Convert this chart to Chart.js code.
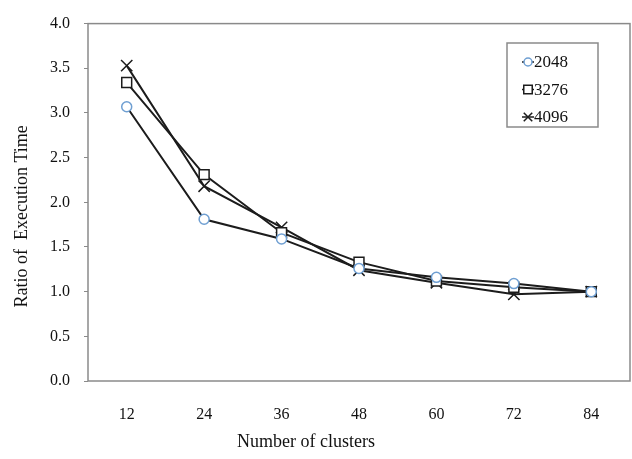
<!DOCTYPE html>
<html>
<head>
<meta charset="utf-8">
<script src="https://cdn.jsdelivr.net/npm/chart.js@4"></script>
<style>
  html, body { margin: 0; padding: 0; background: #fff; }
  #wrap { width: 632px; height: 459px; position: relative; }
</style>
</head>
<body>
<div id="wrap"><canvas id="chart" width="632" height="459"></canvas></div>
<script>
// Ratio of execution time vs number of clusters

const clusters = ['12', '24', '36', '48', '60', '72', '84'];
const ratio2048 = [3.07, 1.81, 1.59, 1.26, 1.16, 1.09, 1.00];
const ratio3276 = [3.34, 2.31, 1.66, 1.33, 1.12, 1.05, 1.00];
const ratio4096 = [3.53, 2.18, 1.72, 1.24, 1.10, 0.97, 1.00];
const seriesNames = ['2048', '3276', '4096'];
const yTicks = [0, 0.5, 1.0, 1.5, 2.0, 2.5, 3.0, 3.5, 4.0];

const serif = '"Liberation Serif", "Times New Roman", serif';
const lineColor = '#1c1c1c';
const frameColor = '#8a8a8a';

function makeSet(label, data, style, stroke, radius) {
    return {
        label: label,
        data: data,
        borderColor: lineColor,
        borderWidth: 2,
        fill: false,
        tension: 0,
        pointStyle: style,
        pointRadius: radius,
        pointBorderColor: stroke,
        pointBackgroundColor: '#fff',
        pointBorderWidth: 1.5
    };
}

// frame, axis titles and the boxed legend
const extras = {
    id: 'extras',
    afterDraw(chart) {
        const ctx = chart.ctx;
        const a = chart.chartArea;
        ctx.save();
        ctx.strokeStyle = frameColor;
        ctx.lineWidth = 1.5;
        ctx.strokeRect(a.left, a.top, a.right - a.left, a.bottom - a.top);

        ctx.fillStyle = '#111';
        ctx.font = '18px ' + serif;
        ctx.textAlign = 'center';
        ctx.textBaseline = 'middle';
        ctx.fillText('Number of clusters', 306, 442);

        ctx.save();
        ctx.translate(22, (a.top + a.bottom) / 2 + 14);
        ctx.rotate(-Math.PI / 2);
        ctx.font = '18px ' + serif;
        ctx.fillText('Ratio of  Execution Time', 0, 0);
        ctx.restore();

        // legend box
        const bx = 507, by = 43, bw = 91, bh = 84;
        ctx.fillStyle = '#fff';
        ctx.fillRect(bx, by, bw, bh);
        ctx.strokeStyle = frameColor;
        ctx.lineWidth = 1.5;
        ctx.strokeRect(bx, by, bw, bh);

        chart.data.datasets.forEach((ds, i) => {
            const y = by + 19 + i * 27.5;
            ctx.strokeStyle = lineColor;
            ctx.lineWidth = 1.5;
            ctx.beginPath();
            ctx.moveTo(bx + 15, y);
            ctx.lineTo(bx + 27, y);
            ctx.stroke();
            ctx.strokeStyle = ds.pointBorderColor;
            ctx.fillStyle = '#fff';
            Chart.helpers.drawPoint(ctx, {
                pointStyle: ds.pointStyle,
                radius: ds.pointStyle === 'circle' ? 4 : 6,
                borderWidth: 1.3
            }, bx + 21, y);
            ctx.fillStyle = '#111';
            ctx.font = '17px ' + serif;
            ctx.textAlign = 'left';
            ctx.fillText(ds.label, bx + 27, y + 1);
        });
        ctx.restore();
    }
};

new Chart(document.getElementById('chart'), {
    type: 'line',
    data: {
        labels: clusters,
        datasets: [
            makeSet(seriesNames[0], ratio2048, 'circle', '#6f9fd2', 5),
            makeSet(seriesNames[1], ratio3276, 'rect', '#1c1c1c', 7),
            makeSet(seriesNames[2], ratio4096, 'crossRot', '#1c1c1c', 8)
        ]
    },
    options: {
        responsive: false,
        animation: false,
        layout: { autoPadding: false, padding: { top: 15, right: 2, left: 0, bottom: 0 } },
        plugins: { legend: { display: false }, tooltip: { enabled: false } },
        scales: {
            x: {
                offset: true,
                grid: { display: false },
                border: { display: false },
                ticks: { color: '#111', font: { family: serif, size: 16 }, padding: 16 },
                afterFit(scale) {
                    scale.height = 78;
                    scale.paddingLeft = 0;
                    scale.paddingRight = 0;
                }
            },
            y: {
                min: 0,
                max: 4,
                afterBuildTicks(scale) { scale.ticks = yTicks.map(v => ({ value: v })); },
                grid: { display: true, drawOnChartArea: false, drawTicks: true, tickLength: 4, color: frameColor },
                border: { display: false },
                ticks: {
                    color: '#111',
                    font: { family: serif, size: 16 },
                    padding: 14,
                    callback: v => Number(v).toFixed(1)
                },
                afterFit(scale) { scale.width = 88; }
            }
        }
    },
    plugins: [extras]
});
</script>
</body>
</html>
